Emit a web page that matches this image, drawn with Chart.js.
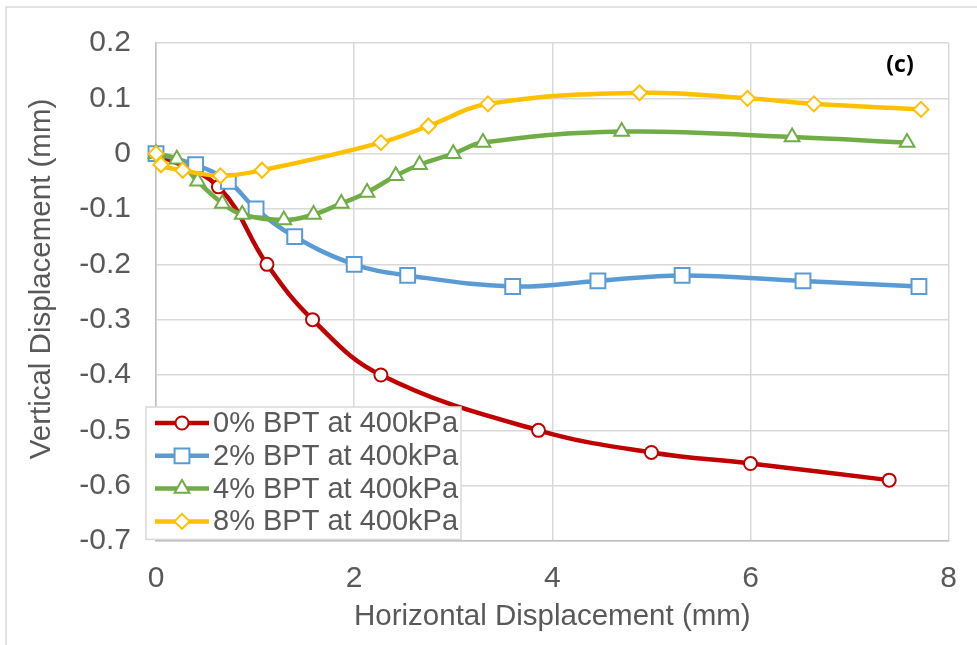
<!DOCTYPE html>
<html><head><meta charset="utf-8">
<script src="https://cdn.jsdelivr.net/npm/chart.js@4.4.1/dist/chart.umd.min.js"></script>
<style>html,body{margin:0;padding:0;background:#fff;}#wrap{position:relative;width:977px;height:645px;}canvas{display:block;}</style>
</head><body><div id="wrap"><canvas id="c" width="977" height="645"></canvas></div>
<script>
// ---- data ----
const seriesNames = ['0% BPT at 400kPa', '2% BPT at 400kPa', '4% BPT at 400kPa', '8% BPT at 400kPa'];
const x0 = [0, 0.63, 1.12, 1.58, 2.27, 3.86, 5.0, 6.0, 7.4];
const y0 = [0, -0.06, -0.2, -0.3, -0.4, -0.5, -0.54, -0.56, -0.59];
const x2 = [0, 0.4, 0.73, 1.01, 1.4, 2.0, 2.54, 3.6, 4.46, 5.31, 6.53, 7.7];
const y2 = [0, -0.02, -0.05, -0.1, -0.15, -0.2, -0.22, -0.24, -0.23, -0.22, -0.23, -0.24];
const x4 = [0, 0.21, 0.42, 0.67, 0.87, 1.29, 1.59, 1.87, 2.13, 2.42, 2.66, 3.0, 3.3, 4.7, 6.42, 7.58];
const y4 = [0, -0.01, -0.05, -0.09, -0.11, -0.12, -0.11, -0.09, -0.07, -0.04, -0.02, 0, 0.02, 0.04, 0.03, 0.02];
const x8 = [0, 0.05, 0.27, 0.65, 1.07, 2.27, 2.75, 3.35, 4.88, 5.97, 6.64, 7.72];
const y8 = [0, -0.02, -0.03, -0.04, -0.03, 0.02, 0.05, 0.09, 0.11, 0.1, 0.09, 0.08];
const xTicks = [0, 2, 4, 6, 8];
const xTickLabels = ['0', '2', '4', '6', '8'];
const yTicks = [0.2, 0.1, 0, -0.1, -0.2, -0.3, -0.4, -0.5, -0.6, -0.7];
const yTickLabels = ['0.2', '0.1', '0', '-0.1', '-0.2', '-0.3', '-0.4', '-0.5', '-0.6', '-0.7'];
const xTitle = 'Horizontal Displacement (mm)';
const yTitle = 'Vertical Displacement (mm)';
const panelLabel = '(c)';

// ---- styling ----
const FONT = '"Liberation Sans", Arial, sans-serif';
const TXT = '#595959';
const styles = [
  {color: '#C00000', pointStyle: 'circle', r: 6.5, order: 4},
  {color: '#5B9BD5', pointStyle: 'rect', r: 10.5, order: 3},
  {color: '#70AD47', pointStyle: 'triangle', r: 8.5, order: 2},
  {color: '#FFC000', pointStyle: 'rectRot', r: 7.5, order: 1}
];
const xs = [x0, x2, x4, x8], ys = [y0, y2, y4, y8];

const datasets = seriesNames.map((name, i) => ({
  label: name,
  data: xs[i].map((x, j) => ({x: x, y: ys[i][j]})),
  showLine: true,
  borderColor: styles[i].color,
  borderWidth: 4.5,
  tension: 0.4,
  pointStyle: styles[i].pointStyle,
  pointRadius: styles[i].r,
  pointBorderWidth: 2,
  pointBackgroundColor: '#ffffff',
  pointBorderColor: styles[i].color,
  order: styles[i].order,
  clip: false
}));

const framePlugin = {
  id: 'frame',
  beforeDraw(chart) {
    const ctx = chart.ctx;
    ctx.save();
    ctx.fillStyle = '#ffffff';
    ctx.fillRect(0, 0, chart.width, chart.height);
    ctx.strokeStyle = '#d9d9d9';
    ctx.lineWidth = 1.5;
    ctx.beginPath();
    ctx.moveTo(6, chart.height);
    ctx.lineTo(6, 7);
    ctx.lineTo(chart.width, 7);
    ctx.stroke();
    // y-axis title
    ctx.fillStyle = TXT;
    ctx.font = '29.5px ' + FONT;
    ctx.textAlign = 'center';
    ctx.textBaseline = 'middle';
    ctx.translate(42, 279);
    ctx.rotate(-Math.PI / 2);
    ctx.fillText(yTitle, 0, 0);
    ctx.restore();
  }
};

const legendPlugin = {
  id: 'boxLegend',
  afterDraw(chart) {
    const ctx = chart.ctx;
    ctx.save();
    ctx.font = '29px ' + FONT;
    const textW = Math.max(...seriesNames.map(n => ctx.measureText(n).width));
    const left = 146, top = 407, rowH = 32.8, padTop = 16;
    const lineX0 = left + 9, lineX1 = left + 63, textX = left + 67;
    const w = textX + textW + 3 - left, h = padTop + rowH * 3 + 16 + 2;
    ctx.fillStyle = '#ffffff';
    ctx.fillRect(left, top, w, h);
    ctx.strokeStyle = '#d9d9d9';
    ctx.lineWidth = 1.5;
    ctx.strokeRect(left, top, w, h);
    seriesNames.forEach((name, i) => {
      const y = top + padTop + i * rowH;
      const st = styles[i];
      ctx.strokeStyle = st.color;
      ctx.lineWidth = 4.5;
      ctx.beginPath();
      ctx.moveTo(lineX0, y);
      ctx.lineTo(lineX1, y);
      ctx.stroke();
      ctx.fillStyle = '#ffffff';
      ctx.strokeStyle = st.color;
      ctx.lineWidth = 2;
      Chart.helpers.drawPoint(ctx, {pointStyle: st.pointStyle, radius: st.r, borderWidth: 2, rotation: 0}, (lineX0 + lineX1) / 2, y);
      ctx.fillStyle = TXT;
      ctx.textBaseline = 'middle';
      ctx.textAlign = 'left';
      ctx.font = '29px ' + FONT;
      ctx.fillText(name, textX, y + 1);
    });
    // panel label
    ctx.fillStyle = '#000000';
    ctx.font = 'bold 23px "Open Sans", ' + FONT;
    ctx.textAlign = 'center';
    ctx.textBaseline = 'middle';
    ctx.fillText(panelLabel, 900, 65);
    ctx.restore();
  }
};

new Chart(document.getElementById('c'), {
  type: 'scatter',
  data: {datasets: datasets},
  options: {
    responsive: false,
    animation: false,
    devicePixelRatio: 1,
    layout: {padding: {left: 0, top: 38, right: 25, bottom: 0}},
    plugins: {legend: {display: false}, tooltip: {enabled: false}},
    scales: {
      x: {
        type: 'linear', min: 0, max: 8,
        afterBuildTicks: s => { s.ticks = xTicks.map(v => ({value: v})); },
        afterFit: s => { s.height = 104; },
        ticks: {callback: (v, i) => xTickLabels[i], font: {family: FONT, size: 30}, color: TXT, padding: 20, maxRotation: 0},
        grid: {color: '#d9d9d9', lineWidth: 1.5, drawTicks: false},
        border: {color: '#bfbfbf', width: 1.5},
        title: {display: true, text: xTitle, font: {family: FONT, size: 29.5}, color: TXT, padding: {top: 0, bottom: 10}}
      },
      y: {
        type: 'linear', min: -0.7, max: 0.2,
        afterBuildTicks: s => { s.ticks = yTicks.map(v => ({value: v})); },
        afterFit: s => { s.width = 156; },
        ticks: {callback: (v, i) => yTickLabels[i], font: {family: FONT, size: 30}, color: TXT, padding: 25},
        grid: {color: '#d9d9d9', lineWidth: 1.5, drawTicks: false},
        border: {color: '#bfbfbf', width: 1.5},
        title: {display: false}
      }
    }
  },
  plugins: [framePlugin, legendPlugin]
});
</script></body></html>
